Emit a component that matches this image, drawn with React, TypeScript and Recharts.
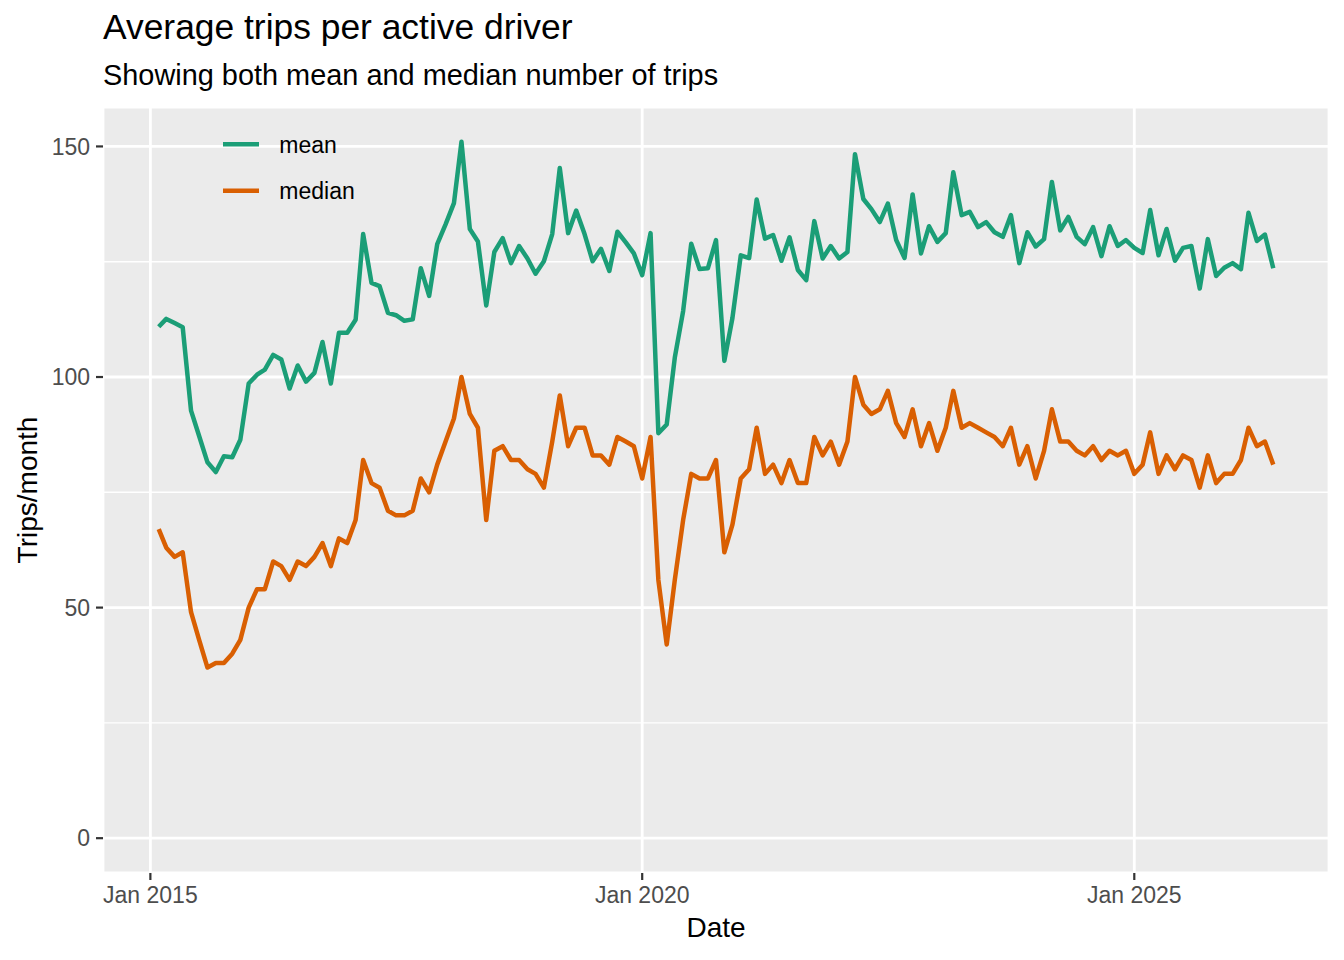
import { LineChart, Line, XAxis, YAxis, CartesianGrid, Legend } from 'recharts';

// Monthly series, first observation is February 2015
const FIRST_YEAR = 2015;
const FIRST_MONTH = 2;

const MEAN_TRIPS = [
  110.9, 112.6, 111.7, 110.8, 92.7, 87.2, 81.5, 79.4, 82.8, 82.6, 86.4, 98.6,
  100.5, 101.6, 104.8, 103.8, 97.5, 102.5, 99.0, 100.9, 107.6, 98.6, 109.6, 109.6,
  112.4, 131.0, 120.4, 119.7, 113.9, 113.4, 112.2, 112.5, 123.6, 117.6, 128.8, 133.1,
  137.7, 151.0, 132.1, 129.4, 115.5, 127.1, 130.1, 124.7, 128.4, 125.7, 122.4, 125.1,
  131.0, 145.3, 131.2, 136.1, 131.0, 125.1, 127.8, 123.0, 131.5, 129.2, 126.8, 122.1,
  131.2, 87.8, 89.7, 104.2, 114.3, 128.9, 123.4, 123.6, 129.7, 103.5, 112.8, 126.4,
  125.8, 138.5, 130.0, 130.8, 125.2, 130.3, 123.2, 121.0, 133.8, 125.7, 128.4, 125.7,
  127.1, 148.3, 138.6, 136.4, 133.6, 137.6, 129.7, 125.8, 139.6, 126.8, 132.7, 129.3,
  131.2, 144.4, 135.1, 135.8, 132.5, 133.6, 131.4, 130.4, 135.1, 124.7, 131.4, 128.3,
  129.9, 142.3, 131.8, 134.7, 130.4, 128.8, 132.5, 126.2, 132.7, 128.4, 129.7, 128.0,
  126.9, 136.2, 126.4, 132.1, 125.2, 128.0, 128.4, 119.2, 129.9, 121.9, 123.7, 124.7,
  123.4, 135.6, 129.5, 130.9, 123.6,
];

const MEDIAN_TRIPS = [
  67, 63, 61, 62, 49, 43, 37, 38, 38, 40, 43, 50,
  54, 54, 60, 59, 56, 60, 59, 61, 64, 59, 65, 64,
  69, 82, 77, 76, 71, 70, 70, 71, 78, 75, 81, 86,
  91, 100, 92, 89, 69, 84, 85, 82, 82, 80, 79, 76,
  86, 96, 85, 89, 89, 83, 83, 81, 87, 86, 85, 78,
  87, 56, 42, 56, 69, 79, 78, 78, 82, 62, 68, 78,
  80, 89, 79, 81, 77, 82, 77, 77, 87, 83, 86, 81,
  86, 100, 94, 92, 93, 97, 90, 87, 93, 85, 90, 84,
  89, 97, 89, 90, 89, 88, 87, 85, 89, 81, 85, 78,
  84, 93, 86, 86, 84, 83, 85, 82, 84, 83, 84, 79,
  81, 88, 79, 83, 80, 83, 82, 76, 83, 77, 79, 79,
  82, 89, 85, 86, 81,
];

const Y_TICKS = [0, 50, 100, 150];
const Y_MINOR_TICKS = [25, 75, 125];
const X_TICK_YEARS = [2015, 2020, 2025];
const X_TICK_LABELS = ['Jan 2015', 'Jan 2020', 'Jan 2025'];

const MEAN_COLOR = '#1b9e77';
const MEDIAN_COLOR = '#d95f02';
const FONT = '"Liberation Sans", Arial, sans-serif';

const monthStart = (year: number, month: number) => Date.UTC(year, month - 1, 1);

const chartData = MEAN_TRIPS.map((mean, i) => ({
  date: monthStart(FIRST_YEAR, FIRST_MONTH + i),
  mean,
  median: MEDIAN_TRIPS[i],
}));

const X_TICKS = X_TICK_YEARS.map((y) => monthStart(y, 1));
const X_MINOR_TICKS = X_TICKS.slice(1).map((t, i) => (t + X_TICKS[i]) / 2);

// ggplot-style 5% expansion
const tFirst = chartData[0].date;
const tLast = chartData[chartData.length - 1].date;
const xPad = (tLast - tFirst) * 0.05;
const X_DOMAIN: [number, number] = [tFirst - xPad, tLast + xPad];

const yMax = Math.max(...MEAN_TRIPS, ...MEDIAN_TRIPS);
const yPad = yMax * 0.05;
const Y_DOMAIN: [number, number] = [-yPad, yMax + yPad];

const tickStyle = { fontSize: 23, fill: '#4d4d4d', fontFamily: FONT };

function renderLegend(props: any) {
  const items = props.payload || [];
  return (
    <svg width={220} height={100} style={{ display: 'block' }}>
      {items.map((item: any, i: number) => (
        <g key={item.value}>
          <line
            x1={23}
            x2={59}
            y1={24.3 + i * 46.4}
            y2={24.3 + i * 46.4}
            stroke={item.color}
            strokeWidth={4.5}
          />
          <text x={79.3} y={32.5 + i * 46.4} fontSize={23} fontFamily={FONT} fill="#000">
            {item.value}
          </text>
        </g>
      ))}
    </svg>
  );
}

export default function App() {
  return (
    <div
      style={{
        position: 'absolute',
        left: 0,
        top: 0,
        width: 1344,
        height: 960,
        background: '#fff',
        fontFamily: FONT,
      }}
    >
      <LineChart
        width={1344}
        height={960}
        data={chartData}
        margin={{ top: 107, right: 15, bottom: 27, left: 43 }}
      >
        <XAxis xAxisId="minor" type="number" domain={X_DOMAIN} ticks={X_MINOR_TICKS} allowDataOverflow hide />
        <YAxis yAxisId="minor" type="number" domain={Y_DOMAIN} ticks={Y_MINOR_TICKS} allowDataOverflow hide />
        <CartesianGrid
          xAxisId="minor"
          yAxisId="minor"
          fill="#ebebeb"
          stroke="#ffffff"
          strokeWidth={1.4}
        />
        <CartesianGrid stroke="#ffffff" strokeWidth={2.8} />
        <XAxis
          dataKey="date"
          type="number"
          domain={X_DOMAIN}
          ticks={X_TICKS}
          allowDataOverflow
          tickFormatter={(v) => X_TICK_LABELS[X_TICKS.indexOf(v)] ?? ''}
          tick={tickStyle}
          tickSize={7}
          tickMargin={7}
          tickLine={{ stroke: '#333333', strokeWidth: 2.2 }}
          axisLine={false}
          height={60}
          interval={0}
        />
        <YAxis
          type="number"
          domain={Y_DOMAIN}
          ticks={Y_TICKS}
          allowDataOverflow
          tick={tickStyle}
          tickSize={7}
          tickMargin={6}
          tickLine={{ stroke: '#333333', strokeWidth: 2.2 }}
          axisLine={false}
          width={60}
          interval={0}
        />
        <Legend
          content={renderLegend}
          layout="vertical"
          align="center"
          verticalAlign="middle"
          wrapperStyle={{ left: 200, top: 120, width: 220, height: 100 }}
        />
        <Line
          type="linear"
          dataKey="mean"
          name="mean"
          stroke={MEAN_COLOR}
          strokeWidth={4.5}
          strokeLinejoin="round"
          dot={false}
          activeDot={false}
          isAnimationActive={false}
        />
        <Line
          type="linear"
          dataKey="median"
          name="median"
          stroke={MEDIAN_COLOR}
          strokeWidth={4.5}
          strokeLinejoin="round"
          dot={false}
          activeDot={false}
          isAnimationActive={false}
        />
      </LineChart>

      <div
        style={{
          position: 'absolute',
          left: 103,
          top: 10,
          fontSize: 35.4,
          lineHeight: 1,
          color: '#000',
          whiteSpace: 'nowrap',
        }}
      >
        Average trips per active driver
      </div>
      <div
        style={{
          position: 'absolute',
          left: 103,
          top: 60.5,
          fontSize: 28.9,
          lineHeight: 1,
          color: '#000',
          whiteSpace: 'nowrap',
        }}
      >
        Showing both mean and median number of trips
      </div>
      <div
        style={{
          position: 'absolute',
          left: 716,
          top: 914,
          transform: 'translateX(-50%)',
          fontSize: 28,
          lineHeight: 1,
          color: '#000',
          whiteSpace: 'nowrap',
        }}
      >
        Date
      </div>
      <div
        style={{
          position: 'absolute',
          left: 28,
          top: 490,
          transform: 'translate(-50%, -50%) rotate(-90deg)',
          fontSize: 28,
          lineHeight: 1,
          color: '#000',
          whiteSpace: 'nowrap',
        }}
      >
        Trips/month
      </div>
    </div>
  );
}
